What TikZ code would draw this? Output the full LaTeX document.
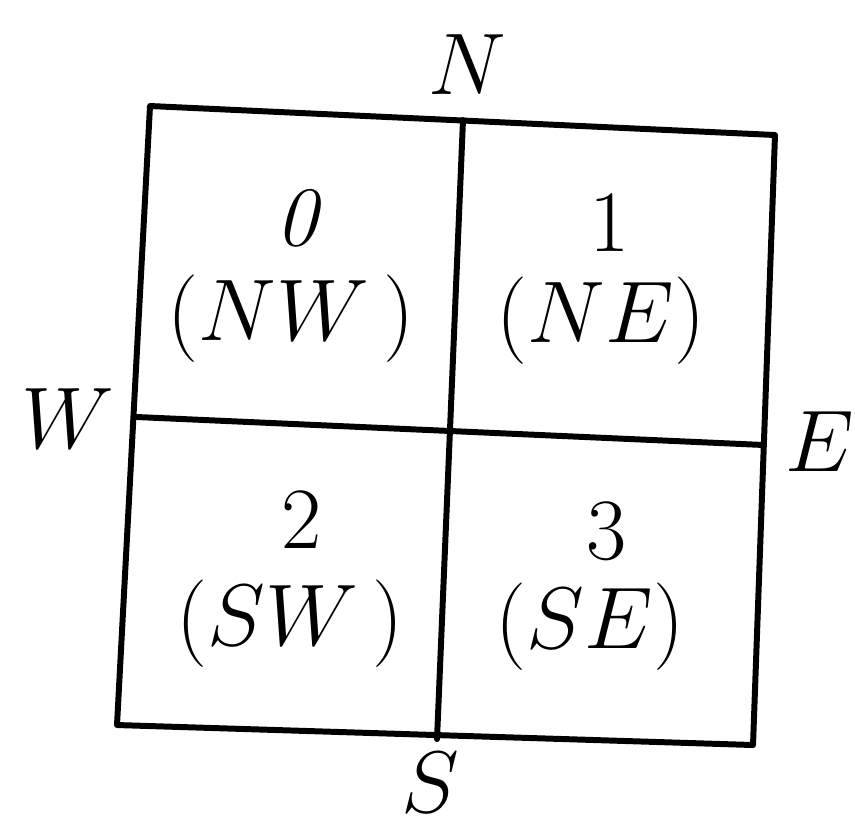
\documentclass[tikz,border=0pt]{standalone}
\tikzset{
  % quadrant figure
  qedge/.style   = { line width=1.7pt, line cap=round, line join=round },
  compass/.style = { font=\fontsize{24}{28}\selectfont, inner sep=0pt, anchor=base },
  cellnum/.style = { font=\fontsize{24}{28}\selectfont, inner sep=0pt, anchor=base },
  celllab/.style = { font=\fontsize{24}{28}\selectfont, inner sep=0pt, anchor=base }
}
\begin{document}
\begin{tikzpicture}[x=0.01cm, y=-0.01cm]
  \useasboundingbox (0,0) rectangle (855,826);

  % --- corners and edge midpoints (the square is slightly skewed) ---
  \coordinate (tl) at (150,106);
  \coordinate (tr) at (775,135);
  \coordinate (br) at (753,745);
  \coordinate (bl) at (117,725);
  \coordinate (tm) at (463,120);
  \coordinate (bm) at (437,739);
  \coordinate (lm) at (137,417);
  \coordinate (rm) at (764,445);

  \draw[qedge] (tl) -- (tr) -- (br) -- (bl) -- cycle;
  \draw[qedge] (tm) -- (bm);
  \draw[qedge] (lm) -- (rm);

  % --- compass letters ---
  \node[compass] (north) at (467,94)  {$N$};
  \node[compass] (west)  at (68,448)  {$W$};
  \node[compass] (east)  at (820,471) {$E$};
  \node[compass] (south) at (430,812) {$S$};

  % --- quadrant numbers and names ---
  \node[cellnum] (nwnum) at (298,245) {\textit{0}};
  \node[celllab] (nwlab) at (291,340) {$(NW\,)$};
  \node[cellnum] (nenum) at (610,251) {$1$};
  \node[celllab] (nelab) at (601,342) {$(NE)$};
  \node[cellnum] (swnum) at (302,548) {$2$};
  \node[celllab] (swlab) at (290,645) {$(SW\,)$};
  \node[cellnum] (senum) at (607,559) {$3$};
  \node[celllab] (selab) at (590,648) {$(SE)$};

\end{tikzpicture}
\end{document}
